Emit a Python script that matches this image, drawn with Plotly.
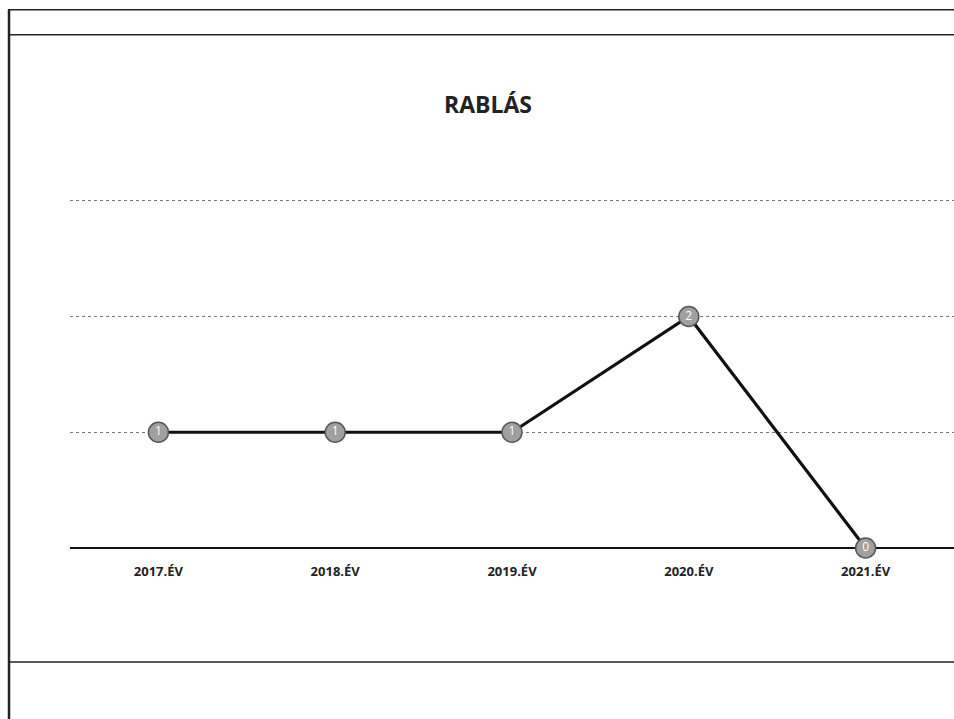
import plotly.graph_objects as go

years = ["2017.ÉV", "2018.ÉV", "2019.ÉV", "2020.ÉV", "2021.ÉV"]
values = [1, 1, 1, 2, 0]

W, H = 954, 719
Y_TOP = 3.05
L, R, B = 70, 954, 548
T = B - 347 * Y_TOP / 3  # keep 3 units spanning 347 px


def px(x):
    return (x - L) / (R - L)


def py(y):
    return (B - y) / (B - T)


fig = go.Figure()
fig.add_trace(go.Scatter(
    x=years, y=values,
    mode="lines+markers+text",
    line=dict(color="#111111", width=3.2),
    marker=dict(size=20, color="#a0a0a0", line=dict(color="#555555", width=1.5)),
    text=[str(v) for v in values],
    textposition="middle center",
    textfont=dict(family="Open Sans", size=12, color="#ffffff"),
    cliponaxis=False,
    showlegend=False,
))

frame = dict(color="#222222", width=1.5)
shapes = [
    dict(type="line", xref="paper", yref="paper", x0=px(8), x1=px(954), y0=py(10), y1=py(10), line=frame),
    dict(type="line", xref="paper", yref="paper", x0=px(8), x1=px(954), y0=py(35), y1=py(35), line=frame),
    dict(type="line", xref="paper", yref="paper", x0=px(8), x1=px(954), y0=py(662), y1=py(662), line=frame),
    dict(type="line", xref="paper", yref="paper", x0=px(9), x1=px(9), y0=py(10), y1=py(719), line=dict(color="#222222", width=2.5)),
]

fig.update_layout(
    width=W, height=H,
    margin=dict(l=L, r=W - R, t=T, b=H - B),
    paper_bgcolor="white", plot_bgcolor="white",
    title=dict(text="<b>RABLÁS</b>", x=px(488), xref="paper", y=1 - 105 / H, yanchor="middle",
               font=dict(family="Open Sans", size=23, color="#222222")),
    xaxis=dict(type="category", range=[-0.5, 4.5], showgrid=False, zeroline=False,
               showline=False, ticks="",
               tickfont=dict(family="Open Sans", size=13, color="#222222", weight="bold"),
               ticklabelstandoff=14),
    yaxis=dict(range=[0, Y_TOP], showticklabels=False, ticks="", dtick=1,
               showgrid=True, gridcolor="#777777", griddash="dot", gridwidth=1,
               zeroline=True, zerolinecolor="#111111", zerolinewidth=2),
    shapes=shapes,
)

fig.write_html("out.html")
